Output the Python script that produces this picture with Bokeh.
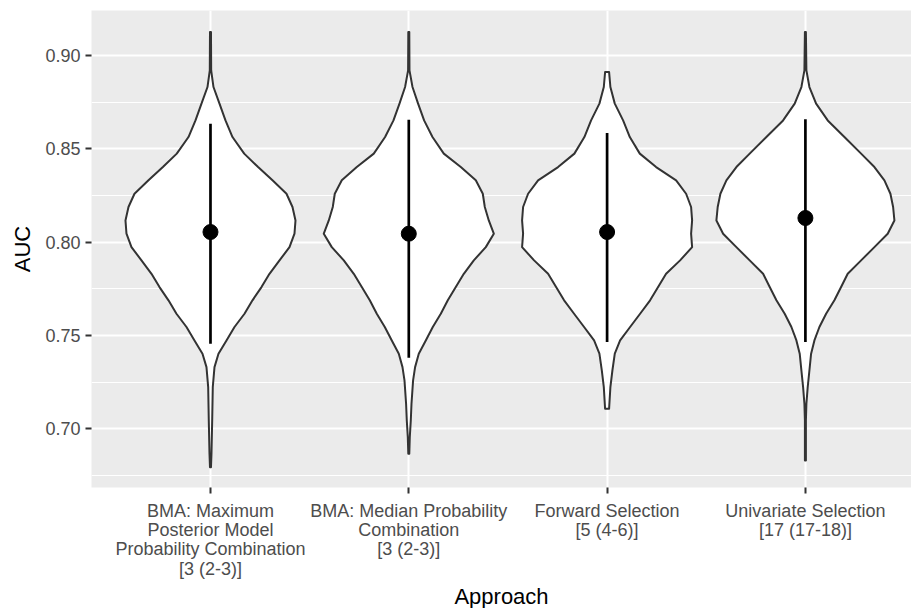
from bokeh.plotting import figure
from bokeh.models import FixedTicker, Range1d
from bokeh.embed import file_html
from bokeh.resources import INLINE

# ---- data ----
categories = [
    "BMA: Maximum\nPosterior Model\nProbability Combination\n[3 (2-3)]",
    "BMA: Median Probability\nCombination\n[3 (2-3)]",
    "Forward Selection\n[5 (4-6)]",
    "Univariate Selection\n[17 (17-18)]",
]
positions = [1, 2, 3, 4]

# summary: median point and interval line
medians = [0.8054, 0.8045, 0.8054, 0.8129]
lower = [0.7455, 0.7380, 0.7464, 0.7464]
upper = [0.8634, 0.8656, 0.8584, 0.8658]

# violin outlines: AUC levels (top -> bottom) and half-widths (category units)
v1_auc = [0.9126, 0.8920, 0.8831, 0.8742, 0.8652, 0.8563, 0.8474, 0.8402, 0.8331,
          0.8259, 0.8188, 0.8116, 0.8045, 0.7973, 0.7902, 0.7830, 0.7759, 0.7688,
          0.7616, 0.7545, 0.7473, 0.7402, 0.7330, 0.7223, 0.7044, 0.6866, 0.6794]
v1_hw = [0.0025, 0.0035, 0.0151, 0.0454, 0.0756, 0.1109, 0.1700, 0.2400, 0.3127,
         0.3833, 0.4135, 0.4287, 0.4236, 0.3984, 0.3480, 0.2975, 0.2572, 0.2118,
         0.1715, 0.1210, 0.0807, 0.0403, 0.0202, 0.0116, 0.0086, 0.0050, 0.0025]

v2_auc = [0.9126, 0.8920, 0.8831, 0.8742, 0.8652, 0.8563, 0.8474, 0.8402, 0.8331,
          0.8259, 0.8188, 0.8116, 0.8045, 0.7973, 0.7902, 0.7830, 0.7759, 0.7688,
          0.7616, 0.7545, 0.7473, 0.7402, 0.7330, 0.7259, 0.7134, 0.7044, 0.6955, 0.6866]
v2_hw = [0.0025, 0.0035, 0.0187, 0.0469, 0.0772, 0.1195, 0.1765, 0.2622, 0.3379,
         0.3732, 0.3833, 0.4034, 0.4287, 0.3883, 0.3278, 0.2774, 0.2370, 0.1967,
         0.1614, 0.1210, 0.0857, 0.0504, 0.0318, 0.0217, 0.0136, 0.0101, 0.0050, 0.0025]

v3_auc = [0.8911, 0.8831, 0.8742, 0.8652, 0.8563, 0.8474, 0.8402, 0.8331, 0.8259,
          0.8188, 0.8116, 0.8045, 0.7973, 0.7902, 0.7830, 0.7759, 0.7688, 0.7616,
          0.7545, 0.7473, 0.7402, 0.7312, 0.7223, 0.7107]
v3_hw = [0.0101, 0.0166, 0.0388, 0.0807, 0.1145, 0.1649, 0.2471, 0.3480, 0.3984,
         0.4236, 0.4287, 0.4236, 0.4287, 0.3681, 0.2975, 0.2572, 0.2168, 0.1664,
         0.1160, 0.0656, 0.0388, 0.0267, 0.0166, 0.0101]

v4_auc = [0.9126, 0.8920, 0.8831, 0.8742, 0.8652, 0.8563, 0.8474, 0.8402, 0.8331,
          0.8259, 0.8188, 0.8116, 0.8045, 0.7973, 0.7902, 0.7830, 0.7759, 0.7688,
          0.7616, 0.7545, 0.7473, 0.7402, 0.7312, 0.7223, 0.7134, 0.7044, 0.6830]
v4_hw = [0.0025, 0.0050, 0.0202, 0.0540, 0.1125, 0.1967, 0.2809, 0.3480, 0.3984,
         0.4287, 0.4423, 0.4488, 0.4150, 0.3480, 0.2809, 0.2133, 0.1800, 0.1462,
         0.1044, 0.0706, 0.0454, 0.0287, 0.0202, 0.0116, 0.0050, 0.0025, 0.0025]

y_ticks = [0.70, 0.75, 0.80, 0.85, 0.90]
y_minor = [0.675, 0.725, 0.775, 0.825, 0.875, 0.925]

# ---- figure ----
FONT = "Liberation Sans"
p = figure(frame_width=820, frame_height=477,
           x_range=Range1d(0.4, 4.535), y_range=Range1d(0.6685, 0.9241),
           output_backend="svg", toolbar_location=None,
           min_border_left=91, min_border_right=0, min_border_top=10, min_border_bottom=121)
p.background_fill_color = "#EBEBEB"
p.border_fill_color = "white"
p.outline_line_color = None

violins = [(v1_auc, v1_hw), (v2_auc, v2_hw), (v3_auc, v3_hw), (v4_auc, v4_hw)]
xs, ys = [], []
for pos, (auc, hw) in zip(positions, violins):
    right_x = [pos + w for w in hw]
    left_x = [pos - w for w in reversed(hw)]
    xs.append(right_x + left_x)
    ys.append(list(auc) + list(reversed(auc)))
p.patches(xs=xs, ys=ys, fill_color="white", line_color="#333333", line_width=2,
          line_join="round")

p.segment(x0=positions, y0=lower, x1=positions, y1=upper, line_color="black", line_width=2.7)
p.scatter(x=positions, y=medians, size=15, fill_color="black", line_color="black")

# axes
p.xaxis.ticker = FixedTicker(ticks=positions)
p.xaxis.major_label_overrides = {pos: lab for pos, lab in zip(positions, categories)}
p.yaxis.ticker = FixedTicker(ticks=y_ticks, minor_ticks=y_minor)
p.yaxis.major_label_overrides = {t: f"{t:.2f}" for t in y_ticks}

for ax in (p.xaxis[0], p.yaxis[0]):
    ax.axis_line_color = None
    ax.major_tick_line_color = "#333333"
    ax.major_tick_line_width = 2
    ax.major_tick_out = 6
    ax.major_tick_in = 0
    ax.minor_tick_line_color = None
    ax.major_label_text_font = FONT
    ax.major_label_text_font_size = "18px"
    ax.major_label_text_color = "#4D4D4D"
    ax.axis_label_text_font = FONT
    ax.axis_label_text_font_size = "22px"
    ax.axis_label_text_font_style = "normal"
    ax.axis_label_text_color = "black"

p.yaxis.major_label_standoff = 5
p.xaxis.major_label_standoff = 7
p.xaxis.major_label_text_line_height = 0.97
p.xaxis.axis_label = "Approach"
p.yaxis.axis_label = "AUC"
p.xaxis.axis_label_standoff = 2
p.yaxis.axis_label_standoff = 7

p.xgrid.ticker = FixedTicker(ticks=positions)
p.xgrid.grid_line_color = "white"
p.xgrid.grid_line_width = 2
p.ygrid.grid_line_color = "white"
p.ygrid.grid_line_width = 2
p.ygrid.minor_grid_line_color = "white"
p.ygrid.minor_grid_line_width = 1
p.grid.level = "underlay"

open("out.html", "w").write(file_html(p, INLINE))
